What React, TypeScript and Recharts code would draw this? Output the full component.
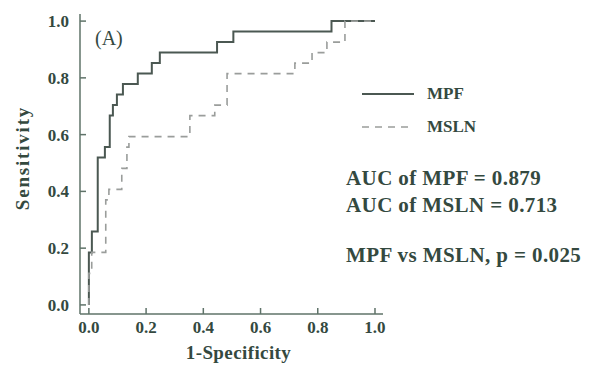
import React from 'react';
import { LineChart, Line, XAxis, YAxis, Legend, Label } from 'recharts';

// ROC curve vertices (1-Specificity, Sensitivity); drawn as step curves
const mpfFpr = [0, 0.0105, 0.031, 0.056, 0.073, 0.084, 0.098, 0.119, 0.171, 0.22, 0.248, 0.448, 0.505, 0.848, 1.0];
const mpfTpr = [0, 0.185, 0.259, 0.519, 0.556, 0.667, 0.704, 0.741, 0.778, 0.815, 0.852, 0.889, 0.926, 0.963, 1.0];
const mslnFpr = [0, 0.01, 0.059, 0.07, 0.115, 0.133, 0.14, 0.353, 0.44, 0.483, 0.72, 0.78, 0.832, 0.895, 1.0];
const mslnTpr = [0, 0.111, 0.185, 0.37, 0.407, 0.481, 0.556, 0.593, 0.667, 0.704, 0.815, 0.852, 0.889, 0.926, 1.0];
const axisTicks = [0, 0.2, 0.4, 0.6, 0.8, 1.0];
const seriesNames = ['MPF', 'MSLN'];
const statLines = ['AUC of MPF = 0.879', 'AUC of MSLN = 0.713', 'MPF vs MSLN, p = 0.025'];

const mpfData = mpfFpr.map((x, i) => ({ x, y: mpfTpr[i] }));
const mslnData = mslnFpr.map((x, i) => ({ x, y: mslnTpr[i] }));

const FONT = '"Liberation Serif", "Times New Roman", serif';
const AXIS = '#5f7369';
const TEXT = '#34493f';

const renderLegend = (props: any) => {
  const payload = props.payload || [];
  return (
    <div style={{ fontFamily: FONT, fontWeight: 'bold', fontSize: 17, color: TEXT }}>
      {payload.map((entry: any, i: number) => (
        <div key={i} style={{ display: 'flex', alignItems: 'center', height: 33 }}>
          <svg width={60} height={10} style={{ marginRight: 5 }}>
            <line
              x1={0}
              y1={5}
              x2={i === 0 ? 52 : 48}
              y2={5}
              stroke={entry.color}
              strokeWidth={i === 0 ? 2 : 1.6}
              strokeDasharray={entry.payload && entry.payload.strokeDasharray}
            />
          </svg>
          <span>{entry.value}</span>
        </div>
      ))}
    </div>
  );
};

export default function App() {
  return (
    <div style={{ position: 'absolute', left: 0, top: 0, width: 600, height: 371, background: '#fff' }}>
      <LineChart width={600} height={371} margin={{ top: 14, right: 217, bottom: 0, left: 0 }}>
        <XAxis
          type="number"
          dataKey="x"
          domain={[-0.031, 1.028]}
          allowDataOverflow
          ticks={axisTicks}
          tickFormatter={(v: number) => v.toFixed(1)}
          height={57}
          stroke={AXIS}
          strokeWidth={1.5}
          tickSize={-6}
          tickMargin={13}
          tick={{ fill: TEXT, fontFamily: FONT, fontWeight: 'bold', fontSize: 17 }}
        >
          <Label
            value="1-Specificity"
            position="insideBottom"
            offset={12}
            dx={7}
            style={{ fill: TEXT, fontFamily: FONT, fontWeight: 'bold', fontSize: 19, letterSpacing: 0.4 }}
          />
        </XAxis>
        <YAxis
          type="number"
          dataKey="y"
          domain={[-0.032, 1.025]}
          allowDataOverflow
          ticks={axisTicks}
          tickFormatter={(v: number) => v.toFixed(1)}
          width={80}
          stroke={AXIS}
          strokeWidth={1.5}
          tickSize={-6}
          tickMargin={17}
          tick={{ fill: TEXT, fontFamily: FONT, fontWeight: 'bold', fontSize: 17 }}
        >
          <Label
            value="Sensitivity"
            angle={-90}
            position="center"
            dx={-18}
            dy={-6}
            style={{ fill: TEXT, fontFamily: FONT, fontWeight: 'bold', fontSize: 19, letterSpacing: 1.8 }}
          />
        </YAxis>
        <Line
          data={mpfData}
          dataKey="y"
          name={seriesNames[0]}
          type="stepBefore"
          stroke="#4b5852"
          strokeWidth={2}
          dot={false}
          isAnimationActive={false}
        />
        <Line
          data={mslnData}
          dataKey="y"
          name={seriesNames[1]}
          type="stepBefore"
          stroke="#9a9d9b"
          strokeWidth={1.6}
          strokeDasharray="7 6"
          dot={false}
          isAnimationActive={false}
        />
        <Legend
          layout="vertical"
          align="center"
          verticalAlign="middle"
          content={renderLegend}
          wrapperStyle={{ left: 362, top: 77, width: 'auto', height: 'auto' }}
        />
      </LineChart>
      <div style={{ position: 'absolute', left: 95, top: 28, fontFamily: FONT, fontSize: 20, color: TEXT, lineHeight: '20px' }}>
        (A)
      </div>
      {statLines.map((s, i) => (
        <div
          key={i}
          style={{
            position: 'absolute',
            left: 346,
            top: [168, 195, 245][i],
            fontFamily: FONT,
            fontWeight: 'bold',
            fontSize: 21,
            letterSpacing: 0.4,
            lineHeight: '20px',
            color: TEXT,
            whiteSpace: 'nowrap',
          }}
        >
          {s}
        </div>
      ))}
    </div>
  );
}
